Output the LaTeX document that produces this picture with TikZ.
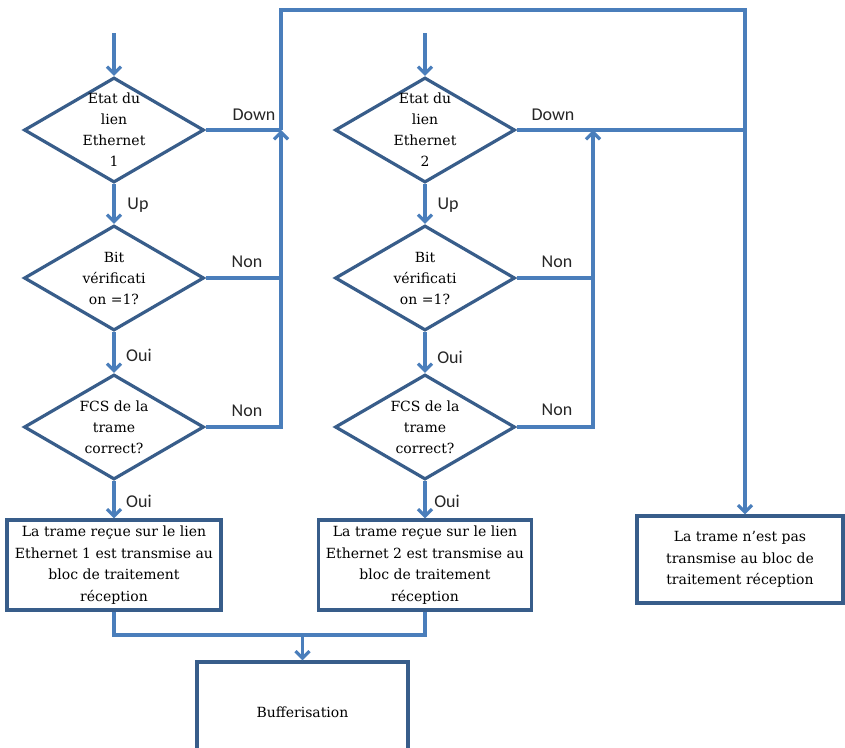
\documentclass[tikz,border=0pt]{standalone}
\usepackage{fontspec}
\setmainfont{DejaVu Serif}
\newfontfamily\labfont{Carlito}
\usetikzlibrary{shapes.geometric,arrows.meta}
\definecolor{edgeblue}{RGB}{56,93,138}
\definecolor{linkblue}{RGB}{74,126,187}
\begin{document}
\begin{tikzpicture}[x=1pt,y=-1pt,
  dia/.style={diamond,draw=edgeblue,line width=3.2pt,minimum width=180pt,minimum height=105pt,inner sep=0pt},
  txt/.style={align=center,font=\fontsize{14}{21}\selectfont,inner sep=0pt},
  box/.style={draw=edgeblue,line width=3.2pt,align=center,inner sep=0pt,font=\fontsize{14}{21.5}\selectfont},
  lab/.style={font=\labfont\fontsize{18}{20}\selectfont,inner sep=0pt,text=black!85},
  conn/.style={draw=linkblue,line width=3.2pt},
  arr/.style={conn,-{Straight Barb[length=7pt,width=14pt]}}]
\clip (0,0) rectangle (845,747);
\fill[white] (0,0) rectangle (845,747);
% column 1
\node[dia] (e1) at (114,130) {};
\node[txt] (e1t) at (e1) {Etat du\\lien\\Ethernet\\1};
\node[dia] (b1) at (114,278) {};
\node[txt] (b1t) at (b1) {Bit\\vérificati\\on =1?};
\node[dia] (f1) at (114,427) {};
\node[txt] (f1t) at (f1) {FCS de la\\trame\\correct?};
\node[box,minimum width=214pt,minimum height=90pt] (r1) at (114,565) {La trame reçue sur le lien\\Ethernet 1 est transmise au\\bloc de traitement\\réception};
% column 2
\node[dia] (e2) at (425,130) {};
\node[txt] (e2t) at (e2) {Etat du\\lien\\Ethernet\\2};
\node[dia] (b2) at (425,278) {};
\node[txt] (b2t) at (b2) {Bit\\vérificati\\on =1?};
\node[dia] (f2) at (425,427) {};
\node[txt] (f2t) at (f2) {FCS de la\\trame\\correct?};
\node[box,minimum width=213pt,minimum height=90pt] (r2) at (425,565) {La trame reçue sur le lien\\Ethernet 2 est transmise au\\bloc de traitement\\réception};
% right box and buffer
\node[box,minimum width=206pt,minimum height=87pt] (n) at (740,559.5) {La trame n’est pas\\transmise au bloc de\\traitement réception};
\node[box,minimum width=211pt,minimum height=100pt] (buf) at (302.5,712) {Bufferisation};
% coordinates
\coordinate (s1) at (114,33);
\coordinate (s2) at (425,33);
\coordinate (j1) at (281,130);
\coordinate (t1) at (281,10);
\coordinate (t2) at (745,10);
\coordinate (j2) at (745,130);
\coordinate (k2) at (593,130);
\coordinate (m) at (302.5,635);
% connectors column 1
\draw[arr] (s1) -- (e1.north);
\draw[arr] (e1.south) -- (b1.north);
\draw[arr] (b1.south) -- (f1.north);
\draw[arr] (f1.south) -- (r1.north);
\draw[conn] (e1.east) -- (j1);
\draw[conn] (b1.east) -- (b1.east -| j1);
\draw[arr] (f1.east) -| (j1);
\draw[conn] (j1) -- (t1) -- (t2) -- (j2);
\draw[arr] (j2) -- (j2 |- n.north);
% connectors column 2
\draw[arr] (s2) -- (e2.north);
\draw[arr] (e2.south) -- (b2.north);
\draw[arr] (b2.south) -- (f2.north);
\draw[arr] (f2.south) -- (r2.north);
\draw[conn] (e2.east) -- (j2);
\draw[conn] (b2.east) -- (b2.east -| k2);
\draw[arr] (f2.east) -| (k2);
% bottom merge
\draw[conn] (r1.south) -- (r1.south |- m) -- (r2.south |- m) -- (r2.south);
\draw[arr] (m) -- (buf.north);
% labels
\node[lab] (ld1) at (254,115) {Down};
\node[lab] (lu1) at (138,205) {Up};
\node[lab] (ln1) at (247,262) {Non};
\node[lab] (lo1) at (139,355) {Oui};
\node[lab] (ln2) at (247,411) {Non};
\node[lab] (lo2) at (139,501) {Oui};
\node[lab] (ld2) at (553,115) {Down};
\node[lab] (lu2) at (448,205) {Up};
\node[lab] (ln3) at (557,262) {Non};
\node[lab] (lo3) at (450,357) {Oui};
\node[lab] (ln4) at (557,410) {Non};
\node[lab] (lo4) at (447,501) {Oui};
\end{tikzpicture}
\end{document}
